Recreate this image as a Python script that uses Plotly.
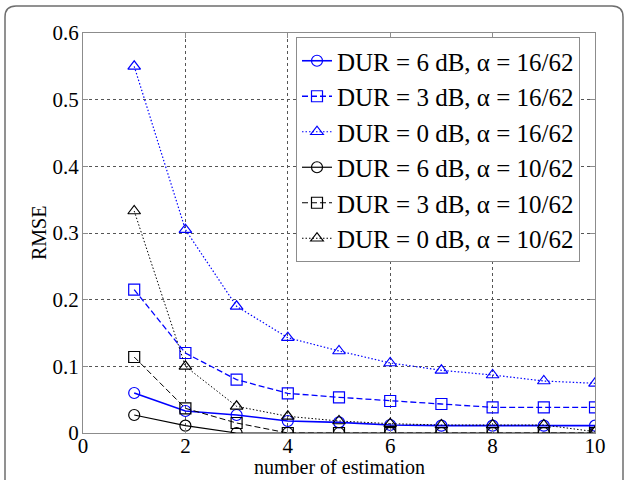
import plotly.graph_objects as go

# Estimation index and RMSE curves
estimation = [1, 2, 3, 4, 5, 6, 7, 8, 9, 10]

rmse_6db_16 = [0.060, 0.033, 0.027, 0.018, 0.016, 0.012, 0.011, 0.011, 0.011, 0.011]
rmse_3db_16 = [0.215, 0.120, 0.080, 0.0595, 0.0535, 0.048, 0.0435, 0.0385, 0.0385, 0.0385]
rmse_0db_16 = [0.550, 0.305, 0.190, 0.143, 0.123, 0.105, 0.094, 0.087, 0.078, 0.0745]
rmse_6db_10 = [0.027, 0.011, 0.0, 0.0, 0.0, 0.0, 0.0, 0.0, 0.0, 0.0]
rmse_3db_10 = [0.114, 0.037, 0.015, 0.0, 0.0, 0.0, 0.0, 0.0, 0.0, 0.0]
rmse_0db_10 = [0.333, 0.100, 0.040, 0.025, 0.018, 0.014, 0.012, 0.012, 0.012, 0.002]

series_names = [
    "DUR = 6 dB, α = 16/62",
    "DUR = 3 dB, α = 16/62",
    "DUR = 0 dB, α = 16/62",
    "DUR = 6 dB, α = 10/62",
    "DUR = 3 dB, α = 10/62",
    "DUR = 0 dB, α = 10/62",
]

x_ticks = [0, 2, 4, 6, 8, 10]
y_ticks = [0, 0.1, 0.2, 0.3, 0.4, 0.5, 0.6]
x_title = "number of estimation"
y_title = "RMSE"

DOT = "1.5px,2px"
DASH = "6px,3px"
series = [
    (rmse_6db_16, "#0000ff", "solid", "circle-open", 1.6),
    (rmse_3db_16, "#0000ff", DASH, "square-open", 1.3),
    (rmse_0db_16, "#0000ff", DOT, "triangle-up-open", 1.2),
    (rmse_6db_10, "#000000", "solid", "circle-open", 1.2),
    (rmse_3db_10, "#000000", DASH, "square-open", 1.0),
    (rmse_0db_10, "#000000", DOT, "triangle-up-open", 1.0),
]

fig = go.Figure()
for i, ((vals, color, dash, symbol, lw), name) in enumerate(zip(series, series_names)):
    fig.add_trace(go.Scatter(
        x=estimation, y=vals, name=name, mode="lines+markers",
        legendgroup=f"g{i}",
        line=dict(color=color, dash=dash, width=lw),
        marker=dict(symbol=symbol, size=11, color=color, line=dict(color=color, width=1.2)),
    ))

# Plot area geometry in pixels
W, H = 629, 480
ml, mr, mt, mb = 83, 34, 33, 47
pw, ph = W - ml - mr, H - mt - mb


def px(xp):
    return (xp - ml) / pw


def py(yp):
    return (H - mb - yp) / ph


# Rounded outer frame around the figure
left, right, top, bottom, r = 5, 623, 6, 500, 11
frame = (
    f"M {px(left)},{py(bottom)} L {px(left)},{py(top + r)} "
    f"Q {px(left)},{py(top)} {px(left + r)},{py(top)} "
    f"L {px(right - r)},{py(top)} "
    f"Q {px(right)},{py(top)} {px(right)},{py(top + r)} "
    f"L {px(right)},{py(bottom)}"
)
fig.add_shape(type="path", xref="paper", yref="paper", path=frame,
              line=dict(color="#6e6e6e", width=1.5), layer="above")

# Axis titles placed as annotations
fig.add_annotation(text=x_title, xref="paper", yref="paper", x=0.5, y=py(467),
                   xanchor="center", yanchor="middle", showarrow=False,
                   font=dict(family="Liberation Serif", size=20, color="black"))
fig.add_annotation(text=y_title, xref="paper", yref="paper", x=px(39), y=0.5,
                   xanchor="center", yanchor="middle", showarrow=False, textangle=-90,
                   font=dict(family="Liberation Serif", size=20, color="black"))

axis_common = dict(
    showline=True, linecolor="#8c8c8c", linewidth=1, mirror="ticks",
    ticks="inside", ticklen=5, tickcolor="#8c8c8c",
    showgrid=True, gridcolor="#555555", griddash="dot", gridwidth=1,
    zeroline=False, automargin=False,
    tickfont=dict(family="Liberation Serif", size=21, color="black"),
)

fig.update_layout(
    width=W, height=H,
    margin=dict(l=ml, r=mr, t=mt, b=mb),
    paper_bgcolor="white", plot_bgcolor="white",
    font=dict(family="Liberation Serif", color="black"),
    xaxis=dict(range=[0, 10], tickvals=x_ticks, **axis_common, ticklabelstandoff=-6),
    yaxis=dict(range=[0, 0.6], tickvals=y_ticks, **axis_common, ticklabelstandoff=-1),
    legend=dict(
        x=px(296), y=py(37), xanchor="left", yanchor="top",
        bgcolor="white", bordercolor="#8c8c8c", borderwidth=1,
        font=dict(family="Liberation Serif", size=25, color="black"),
        tracegroupgap=0, itemwidth=30,
    ),
    showlegend=True,
)

fig.write_html("out.html")
